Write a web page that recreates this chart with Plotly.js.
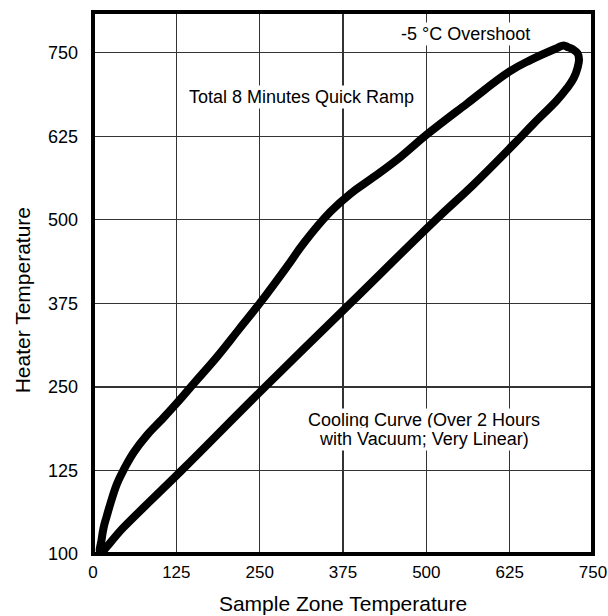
<!DOCTYPE html>
<html>
<head>
<meta charset="utf-8">
<script src="https://cdn.plot.ly/plotly-3.0.1.min.js"></script>
<style>html,body{margin:0;padding:0;background:#fff;}#chart{width:608px;height:616px;}</style>
</head>
<body>
<div id="chart"></div>
<script>
// Sample zone temperature (x) and heater temperature (y) along the loop:
// quick heating ramp (upper branch), overshoot, then linear cooling (lower branch)
const sampleTemp = [11, 13, 16, 21, 26, 36, 46, 61, 81, 101, 125, 151, 186, 218, 250, 291, 316, 356, 386, 421, 461, 500, 561, 625, 656, 696, 706, 713, 720, 727, 729, 727, 721, 711, 696, 661, 632, 570, 514, 386, 250, 133, 46, 11];
const heaterTemp = [3, 22, 40, 58, 75, 105, 126, 152, 178, 199, 225, 255, 295, 335, 375, 430, 465, 512, 539, 564, 594, 627, 674, 722, 739, 757, 761, 758, 755, 749, 740, 728, 712, 697, 679, 644, 614, 552, 500, 375, 242, 125, 40, 3];

const tickVals = [0, 125, 250, 375, 500, 625, 750];
const xTickText = ["0", "125", "250", "375", "500", "625", "750"];
const yTickText = ["100", "125", "250", "375", "500", "625", "750"];

const FONT = '"Liberation Sans", Arial, Helvetica, sans-serif';

const trace = {
  x: sampleTemp,
  y: heaterTemp,
  type: 'scatter',
  mode: 'lines',
  line: {color: '#000', width: 8, shape: 'spline', smoothing: 1.2},
  hoverinfo: 'x+y',
  showlegend: false
};

const layout = {
  width: 608,
  height: 616,
  margin: {l: 93, r: 15, t: 12, b: 62},
  paper_bgcolor: '#fff',
  plot_bgcolor: '#fff',
  font: {family: FONT, color: '#000', size: 18},
  xaxis: {
    range: [0, 750],
    tickvals: tickVals,
    ticktext: xTickText,
    showgrid: true,
    gridcolor: '#333',
    gridwidth: 1.3,
    zeroline: false,
    showline: false,
    ticks: '',
    ticklabelstandoff: 6,
    ticklabeloverflow: 'allow',
    tickfont: {size: 17, family: FONT, color: '#000'},
    title: {text: 'Sample Zone Temperature', font: {size: 21, family: FONT, color: '#000'}, standoff: 15},
    fixedrange: true
  },
  yaxis: {
    range: [0, 811],
    tickvals: tickVals,
    ticktext: yTickText,
    showgrid: true,
    gridcolor: '#333',
    gridwidth: 1.3,
    zeroline: false,
    showline: false,
    ticks: '',
    ticklabelstandoff: 14,
    ticklabeloverflow: 'allow',
    tickfont: {size: 18, family: FONT, color: '#000'},
    fixedrange: true
  },
  shapes: [{
    type: 'rect', xref: 'paper', yref: 'paper', x0: 0, x1: 1, y0: 0, y1: 1,
    line: {color: '#000', width: 4}, layer: 'above'
  }],
  annotations: [
    {x: -0.142, y: 0.468, xref: 'paper', yref: 'paper', text: 'Heater Temperature', showarrow: false,
     textangle: -90, font: {size: 21, family: FONT, color: '#000'}, xanchor: 'center', yanchor: 'middle'},
    {x: 558, y: 778, xref: 'x', yref: 'y', text: '-5 °C Overshoot', showarrow: false,
     font: {size: 18, family: FONT, color: '#000'}, bgcolor: '#fff', xanchor: 'center', yanchor: 'middle'},
    {x: 312, y: 684, xref: 'x', yref: 'y', text: 'Total 8 Minutes Quick Ramp', showarrow: false,
     font: {size: 18, family: FONT, color: '#000'}, bgcolor: '#fff', xanchor: 'center', yanchor: 'middle'},
    {x: 496, y: 201, xref: 'x', yref: 'y', text: 'Cooling Curve (Over 2 Hours', showarrow: false,
     font: {size: 18, family: FONT, color: '#000'}, bgcolor: '#fff', xanchor: 'center', yanchor: 'middle'},
    {x: 496, y: 172, xref: 'x', yref: 'y', text: 'with Vacuum; Very Linear)', showarrow: false,
     font: {size: 18, family: FONT, color: '#000'}, bgcolor: '#fff', xanchor: 'center', yanchor: 'middle'}
  ]
};

Plotly.newPlot('chart', [trace], layout, {displayModeBar: false, staticPlot: true});
</script>
</body>
</html>
